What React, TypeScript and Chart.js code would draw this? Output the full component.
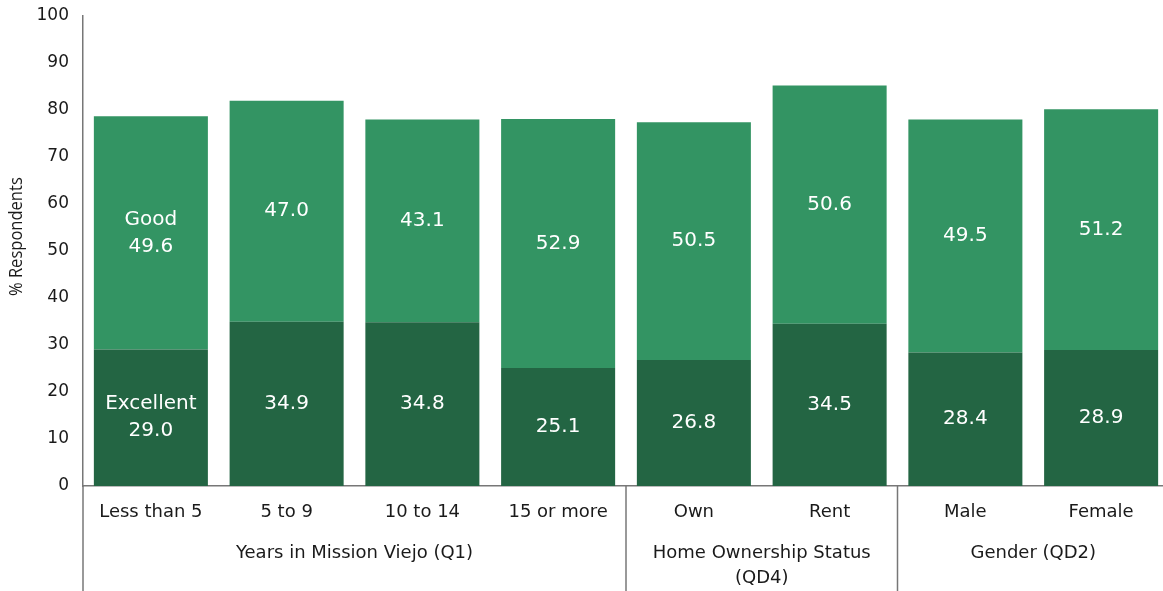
import React, { useEffect, useRef } from "react";
import { Chart, registerables } from "chart.js";

Chart.register(...registerables);

const categories = ["Less than 5", "5 to 9", "10 to 14", "15 or more", "Own", "Rent", "Male", "Female"];
const excellentValues = [29.0, 34.9, 34.8, 25.1, 26.8, 34.5, 28.4, 28.9];
const goodValues = [49.6, 47.0, 43.1, 52.9, 50.5, 50.6, 49.5, 51.2];
const seriesNames = ["Excellent", "Good"];
const groupLabels = [["Years in Mission Viejo (Q1)"], ["Home Ownership Status", "(QD4)"], ["Gender (QD2)"]];
const groupStarts = [0, 4, 6];
const groupEnds = [3, 5, 7];
const yTitle = "% Respondents";
const yMin = 0;
const yMax = 100;
const yStep = 10;

const DARK = "#236543";
const LIGHT = "#339463";
const FONT = "'DejaVu Sans', sans-serif";

const labelPlugin = {
  id: "segmentLabels",
  afterDatasetsDraw(chart: any) {
    const ctx = chart.ctx;
    ctx.save();
    ctx.fillStyle = "#ffffff";
    ctx.font = `20px ${FONT}`;
    ctx.textAlign = "center";
    ctx.textBaseline = "middle";
    chart.data.datasets.forEach((ds: any, di: number) => {
      const meta = chart.getDatasetMeta(di);
      meta.data.forEach((el: any, i: number) => {
        const cy = (el.y + el.base) / 2;
        const val = Number(ds.data[i]).toFixed(1);
        if (i === 0) {
          ctx.fillText(ds.label, el.x, cy - 13.5);
          ctx.fillText(val, el.x, cy + 13.5);
        } else {
          ctx.fillText(val, el.x, cy);
        }
      });
    });
    ctx.restore();
  },
};

const groupPlugin = {
  id: "groupAxis",
  afterDraw(chart: any) {
    const ctx = chart.ctx;
    const area = chart.chartArea;
    const n = categories.length;
    const cw = (area.right - area.left) / n;
    const h = chart.height;
    ctx.save();
    ctx.strokeStyle = "#777777";
    ctx.lineWidth = 1.5;
    ctx.fillStyle = "#1a1a1a";
    ctx.font = `18px ${FONT}`;
    ctx.textAlign = "center";
    ctx.textBaseline = "middle";
    groupStarts.forEach((s, gi) => {
      const x0 = area.left + s * cw;
      const x1 = area.left + (groupEnds[gi] + 1) * cw;
      ctx.beginPath();
      ctx.moveTo(x0, area.bottom);
      ctx.lineTo(x0, h);
      ctx.stroke();
      const mid = (x0 + x1) / 2;
      groupLabels[gi].forEach((line, li) => {
        ctx.fillText(line, mid, area.bottom + 67 + li * 25);
      });
    });
    // y-axis title
    ctx.translate(16.5, chart.scales.y.getPixelForValue(53));
    ctx.rotate(-Math.PI / 2);
    ctx.scale(0.87, 1);
    ctx.font = `19px 'Open Sans', sans-serif`;
    ctx.fillText(yTitle, 0, 0);
    ctx.restore();
  },
};

export default function App() {
  const ref = useRef<HTMLCanvasElement | null>(null);
  useEffect(() => {
    if (!ref.current) return;
    const chart = new Chart(ref.current, {
      type: "bar",
      data: {
        labels: categories,
        datasets: [
          { label: seriesNames[0], data: excellentValues, backgroundColor: DARK, borderWidth: 0 },
          { label: seriesNames[1], data: goodValues, backgroundColor: LIGHT, borderWidth: 0 },
        ],
      },
      options: {
        responsive: false,
        animation: false,
        devicePixelRatio: 1,
        layout: { padding: { left: 0, right: 6, top: 15.5, bottom: 0 } },
        plugins: {
          legend: { display: false },
          tooltip: { enabled: false },
        },
        datasets: { bar: { categoryPercentage: 1, barPercentage: 0.84 } },
        scales: {
          x: {
            stacked: true,
            grid: { display: false, drawTicks: false },
            border: { display: true, color: "#777777", width: 1.5 },
            ticks: { color: "#1a1a1a", font: { family: FONT, size: 18 }, padding: 16, maxRotation: 0, autoSkip: false },
            afterFit: (s: any) => { s.height = 105; s.paddingLeft = 0; s.paddingRight = 0; },
          },
          y: {
            stacked: true,
            min: yMin,
            max: yMax,
            grid: { display: false, drawTicks: false },
            border: { display: true, color: "#777777", width: 1.5 },
            ticks: { stepSize: yStep, color: "#1a1a1a", font: { family: FONT, size: 17 }, padding: 14 },
            title: { display: false },
            afterFit: (s: any) => { s.width = 83; s.paddingTop = 0; s.paddingBottom = 0; },
          },
        },
      },
      plugins: [labelPlugin, groupPlugin],
    });
    return () => chart.destroy();
  }, []);
  return (
    <div style={{ position: "fixed", left: 0, top: 0, width: 1163, height: 591, overflow: "hidden", background: "#fff" }}>
      <canvas ref={ref} width={1175} height={591} style={{ width: 1175, height: 591, display: "block" }} />
    </div>
  );
}
